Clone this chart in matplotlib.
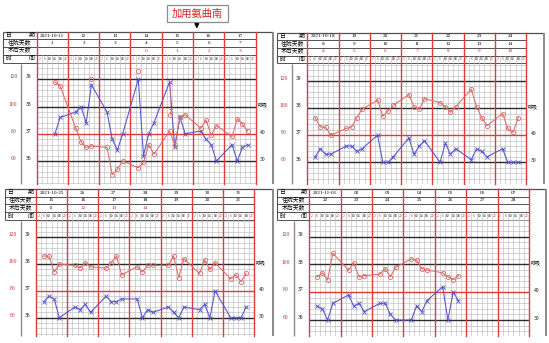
import matplotlib.pyplot as plt
import numpy as np
from matplotlib.patches import Rectangle

plt.rcParams['font.family'] = ['Noto Sans CJK SC', 'DejaVu Sans']

W, H = 549, 343

# time slots per day: 2, 6, 10, 14, 18, 22 o'clock -> slot index = day * 6 + k
time_labels = ["2", "6", "10", "14", "18", "22"]
time_colors = ["#d42020", "#d42020", "black", "black", "black", "#d42020"]

# week 1
p1_dates = ["2021-10-11", "12", "13", "14", "15", "16", "17"]
p1_stay = ["1", "2", "3", "4", "5", "6", "7"]
p1_postop = ["", "", "", "0", "1", "2", "3"]
p1_slots = [3, 4, 7, 8, 9, 10, 13, 14, 15, 16, 19, 20, 21, 22, 25, 26, 27, 28, 31, 32, 33, 34, 37, 38, 39, 40]
p1_temp = [37.0, 37.6, 37.8, 38.0, 37.4, 38.8, 37.8, 36.8, 36.4, 37.0, 39.0, 36.2, 37.0,
           37.4, 38.9, 36.5, 37.6, 37.0, 37.1, 36.8, 36.6, 36.0, 36.6, 36.0, 36.5, 36.6]
p1_pulse = [118, 115, 84, 74, 70, 71, 70, 50, 54, 60, 55, 59, 72,
            65, 82, 72, 92, 94, 84, 90, 79, 86, 78, 91, 87, 82]
# extra rechecks (red circles) and the cooling recheck joined by a dashed line
p1_recheck_slots = [10, 19]
p1_recheck_temp = [39.0, 39.3]
p1_cool_slot = 25
p1_cool_temp = 37.7

# week 2
p2_dates = ["2021-10-18", "19", "20", "21", "22", "23", "24"]
p2_stay = ["8", "9", "10", "11", "12", "13", "14"]
p2_postop = ["4", "5", "6", "7", "8", "9", "10"]
p2_slots = [1, 2, 3, 4, 7, 8, 9, 10, 13, 14, 15, 16, 19, 20, 21, 22, 25, 26, 27, 28, 31, 32, 33, 34, 37, 38, 39, 40]
p2_temp = [36.2, 36.5, 36.3, 36.3, 36.6, 36.6, 36.4, 36.5, 37.0, 36.0, 36.0, 36.2, 36.9, 36.3,
           36.6, 36.8, 36.0, 36.7, 36.3, 36.5, 36.1, 36.5, 36.4, 36.2, 36.5, 36.0, 36.0, 36.0]
p2_pulse = [93, 86, 86, 80, 85, 86, 93, 99, 106, 94, 98, 102, 110, 101,
            99, 107, 104, 101, 97, 101, 114, 101, 93, 87, 96, 85, 82, 93]

# week 3
p3_dates = ["2021-10-25", "26", "27", "28", "29", "30", "31"]
p3_stay = ["15", "16", "17", "18", "19", "20", "21"]
p3_postop = ["11", "12", "13", "14", "", "", ""]
p3_slots = p2_slots
p3_temp = [36.6, 36.8, 36.7, 36.0, 36.4, 36.3, 36.5, 36.2, 36.8, 36.6, 36.6, 36.7, 36.7, 36.0,
           36.3, 36.2, 36.4, 36.2, 36.0, 36.4, 36.3, 36.5, 36.0, 37.0, 36.0, 36.0, 36.0, 36.4]
p3_pulse = [106, 106, 94, 100, 99, 97, 101, 98, 97, 101, 106, 92, 98, 94,
            99, 99, 99, 106, 90, 104, 93, 103, 96, 101, 89, 92, 87, 93]

# week 4
p4_dates = ["2021-11-01", "02", "03", "04", "05", "06", "07"]
p4_stay = ["22", "23", "24", "25", "26", "27", "28"]
p4_postop = ["", "", "", "", "", "", ""]
p4_slots = [1, 2, 3, 4, 7, 8, 9, 10, 13, 14, 15, 16, 19, 20, 21, 22, 25, 26, 27, 28]
p4_temp = [36.5, 36.4, 36.0, 36.6, 36.9, 36.5, 36.6, 36.3, 36.6, 36.6,
           36.2, 36.0, 36.0, 36.5, 36.3, 36.7, 37.2, 36.0, 37.0, 36.7]
p4_pulse = [91, 94, 89, 108, 96, 101, 91, 92, 93, 97,
            91, 98, 104, 103, 97, 96, 94, 91, 89, 92]

pulse_ticks = [120, 100, 80, 60]
temp_ticks = [39, 38, 37, 36]
resp_ticks = [40, 30]

RED = "#e03a3a"
PINK = "#e06868"
BLUE = "#5252cc"
MINOR = "#bdbdbd"
DARK = "#505050"
FRAME = "#8a8a8a"
SERIF = ['Liberation Serif', 'DejaVu Sans']


def to_pulse(t):
    return 20 * (t - 39) + 120


fig = plt.figure(figsize=(W / 100, H / 100), dpi=100)
canvas = fig.add_axes([0, 0, 1, 1])
canvas.set_xlim(0, W)
canvas.set_ylim(H, 0)
canvas.set_axis_off()


def hline(y, x0, x1, **kw):
    canvas.plot([x0, x1], [y, y], solid_capstyle='butt', **kw)


def vline(x, y0, y1, **kw):
    canvas.plot([x, x], [y0, y1], solid_capstyle='butt', **kw)


def draw_sheet(lay, dates, stay, postop, slots, temps, pulses):
    left, gx0, gx1, right = lay["left"], lay["gx0"], lay["gx1"], lay["right"]
    rows, gy1 = lay["rows"], lay["bottom"]
    gy0 = rows[-1]
    y39, y36 = lay["y39"], lay["y36"]
    k = (y36 - y39) / 3
    slot_w = (gx1 - gx0) / 42
    day_w = slot_w * 6

    # header frame
    hline(rows[0], left, right, color=DARK, lw=0.9)
    for y in rows[1:]:
        hline(y, left, gx1, color=DARK, lw=0.7)
    vline(left, rows[0], rows[-1], color=DARK, lw=0.8)
    vline(right, rows[0], gy1, color=FRAME, lw=1.4)
    vline(gx0 - 15.5, gy0 + 1, gy1, color=FRAME, lw=1.0)

    fs = 4.2
    lx = (left + gx0) / 2
    for i, pair in [(0, ("日", "期")), (3, ("时", "间"))]:
        yc = (rows[i] + rows[i + 1]) / 2
        canvas.text(left + 5.5, yc, pair[0], fontsize=fs, ha='center', va='center')
        canvas.text(gx0 - 5.5, yc, pair[1], fontsize=fs, ha='center', va='center')
    canvas.text(lx, (rows[1] + rows[2]) / 2, "住院天数", fontsize=fs, ha='center', va='center')
    canvas.text(lx, (rows[2] + rows[3]) / 2, "术后天数", fontsize=fs, ha='center', va='center')

    for d in range(7):
        xc = gx0 + (d + 0.5) * day_w
        canvas.text(xc, (rows[0] + rows[1]) / 2, dates[d], fontsize=3.8, ha='center', va='center',
                    family=SERIF)
        canvas.text(xc, (rows[1] + rows[2]) / 2, stay[d], fontsize=3.8, ha='center', va='center',
                    family=SERIF)
        canvas.text(xc, (rows[2] + rows[3]) / 2, postop[d], fontsize=3.8, ha='center', va='center',
                    color="#d42020", family=SERIF)
        for s in range(6):
            canvas.text(gx0 + (d * 6 + s + 0.5) * slot_w, (rows[3] + rows[4]) / 2, time_labels[s],
                        fontsize=2.6, ha='center', va='center', color=time_colors[s], family=SERIF)

    # axis labels beside the grid
    for p, t in zip(pulse_ticks, temp_ticks):
        yy = y39 + (39 - t) * k - 2.4
        canvas.text(gx0 - 23.5, yy, str(p), fontsize=4.0, ha='center', va='center', color="#c02828",
                    family=SERIF)
        canvas.text(gx0 - 8.5, yy, str(t), fontsize=4.0, ha='center', va='center', family=SERIF)
    canvas.text(gx1 + 2, y39 + k - 1.2, "呼吸", fontsize=3.6, ha='left', va='center')
    for r, t in zip(resp_ticks, [37, 36]):
        canvas.text(gx1 + 4.5, y39 + (39 - t) * k - 1.6, str(r), fontsize=4.0, ha='left', va='center',
                    family=SERIF)

    # chart grid
    ax = fig.add_axes([gx0 / W, 1 - gy1 / H, (gx1 - gx0) / W, (gy1 - rows[0]) / H])
    t_top = 39 + (y39 - rows[0]) / k
    t_grid = 39 + (y39 - gy0) / k
    t_bot = 36 - (gy1 - y36) / k
    ax.set_xlim(0, 42)
    ax.set_ylim(t_bot, t_top)
    ax.set_axis_off()
    ax.patch.set_visible(False)
    frac_time = (39 + (y39 - rows[3]) / k - t_bot) / (t_top - t_bot)
    for s in range(1, 42):
        if s % 6:
            ax.axvline(s, ymax=frac_time, color=MINOR, lw=0.45)
    for t in np.arange(35.2, t_grid, 0.2):
        if min(abs(t - v) for v in (36, 37, 38, 39)) > 0.05:
            ax.axhline(t, color=MINOR, lw=0.45)
    for t in (36, 38, 39):
        ax.axhline(t, color="#2a2a2a", lw=1.0)
    ax.axhline(37, color=RED, lw=1.0)
    for d in range(0, 43, 6):
        ax.axvline(d, color=RED, lw=1.0, clip_on=False)

    x = np.array(slots) + 0.5
    ax.plot(x, temps, color=BLUE, lw=0.75, marker='x', ms=2.8, mew=0.6, zorder=5)

    px = ax.twinx()
    px.set_ylim(to_pulse(t_bot), to_pulse(t_top))
    px.set_axis_off()
    px.plot(x, pulses, color=PINK, lw=0.75, marker='o', ms=3.0, mfc='none', mew=0.6, zorder=6)
    return ax, px


sheets = [
    dict(left=3, gx0=36.7, gx1=255.5, right=272.5, rows=[32.3, 39.3, 46.5, 54.5, 62.5],
         bottom=183.5, y39=79.3, y36=161.0),
    dict(left=277, gx0=307.3, gx1=526.0, right=543.5, rows=[32.7, 40.0, 47.5, 55.5, 62.7],
         bottom=183.5, y39=81.0, y36=162.3),
    dict(left=5, gx0=36.0, gx1=254.0, right=272.5, rows=[189.0, 196.5, 204.2, 212.2, 220.0],
         bottom=336.0, y39=237.3, y36=317.7),
    dict(left=277, gx0=309.3, gx1=529.0, right=545.5, rows=[189.0, 196.5, 204.0, 212.0, 220.0],
         bottom=336.0, y39=236.7, y36=320.0),
]

ax1, px1 = draw_sheet(sheets[0], p1_dates, p1_stay, p1_postop, p1_slots, p1_temp, p1_pulse)
draw_sheet(sheets[1], p2_dates, p2_stay, p2_postop, p2_slots, p2_temp, p2_pulse)
draw_sheet(sheets[2], p3_dates, p3_stay, p3_postop, p3_slots, p3_temp, p3_pulse)
draw_sheet(sheets[3], p4_dates, p4_stay, p4_postop, p4_slots, p4_temp, p4_pulse)

# rechecked temperatures in week 1
ax1.plot(np.array(p1_recheck_slots) + 0.5, p1_recheck_temp, ls='none', marker='o', ms=3.0,
         mfc='none', mec=PINK, mew=0.6, zorder=6)
cool_i = p1_slots.index(p1_cool_slot)
ax1.plot([p1_cool_slot + 0.5] * 2, [p1_temp[cool_i], p1_cool_temp], color=PINK, lw=0.7,
         ls=(0, (1.5, 1.5)), zorder=6)
ax1.plot([p1_cool_slot + 0.5], [p1_cool_temp], ls='none', marker='o', ms=3.0, mfc='none', mec=PINK,
         mew=0.6, zorder=6)

# medication note
canvas.add_patch(Rectangle((167, 5), 60.5, 16.5, fc='white', ec='#8c8c8c', lw=0.9))
canvas.text(197.2, 13.4, "加用氨曲南", fontsize=7.4, color="#e02020", ha='center', va='center')
canvas.annotate('', xy=(196.8, 31.5), xytext=(196.8, 21.5),
                arrowprops=dict(arrowstyle='-|>', color='black', lw=1.1, mutation_scale=6))

fig.savefig("out.png", dpi=100)
